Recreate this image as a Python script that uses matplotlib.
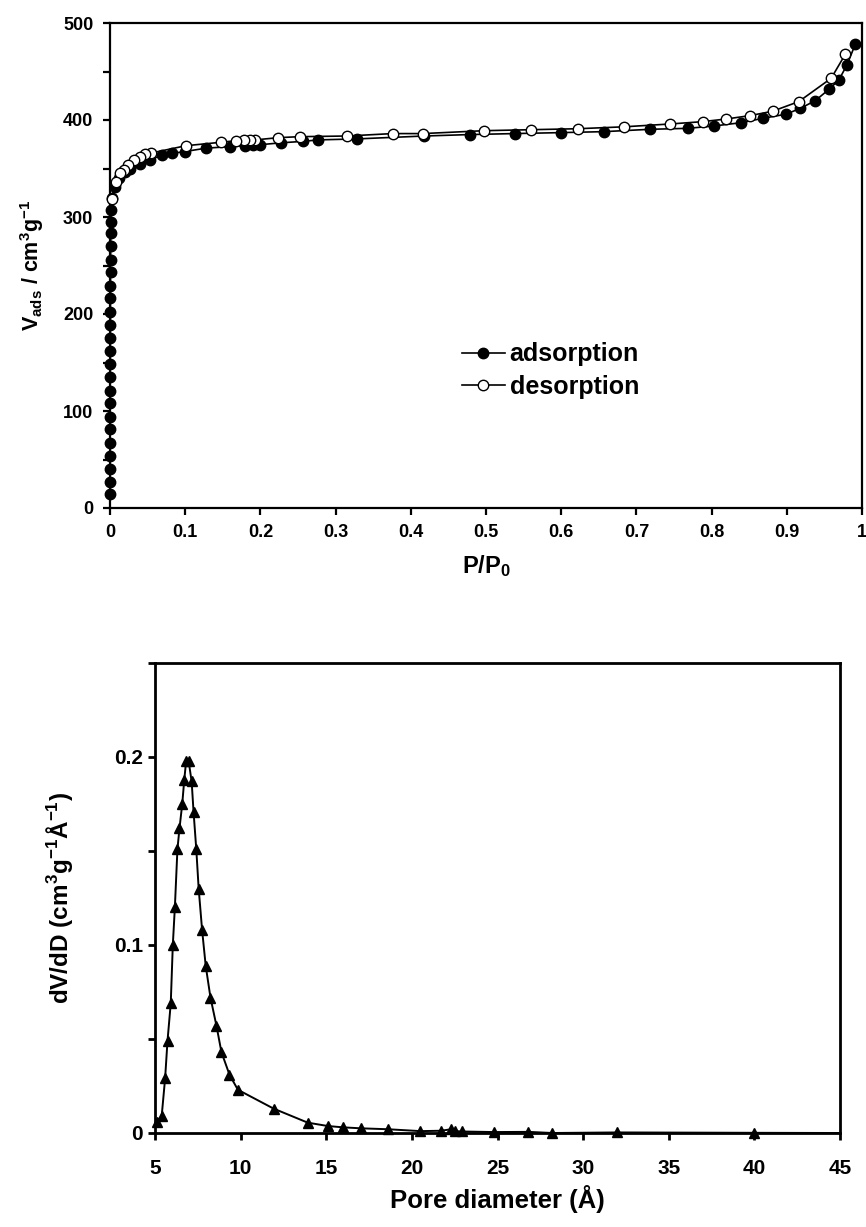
import matplotlib
matplotlib.use("Agg")
import matplotlib.pyplot as plt
from matplotlib.ticker import MultipleLocator, FuncFormatter

plt.rcParams['font.family'] = ['Liberation Sans', 'DejaVu Sans']
plt.rcParams['font.weight'] = 'bold'
plt.rcParams['axes.labelweight'] = 'bold'
plt.rcParams['mathtext.fontset'] = 'custom'
plt.rcParams['mathtext.rm'] = 'Liberation Sans:bold'
plt.rcParams['mathtext.it'] = 'Liberation Sans:bold'
plt.rcParams['mathtext.bf'] = 'Liberation Sans:bold'
plt.rcParams['mathtext.default'] = 'rm'

# N2 isotherm, adsorption branch (P/P0, cm3/g)
ads_p = [0.0000, 0.0000, 0.0001, 0.0001, 0.0001, 0.0002, 0.0002, 0.0002, 0.0003, 0.0003,
         0.0003, 0.0004, 0.0004, 0.0005, 0.0005, 0.0006, 0.0006, 0.0007, 0.0008, 0.0009,
         0.0010, 0.0012, 0.0015, 0.003, 0.006, 0.012, 0.020, 0.027, 0.040, 0.053,
         0.069, 0.082, 0.0996, 0.128, 0.159, 0.179, 0.190, 0.199, 0.228, 0.257,
         0.277, 0.328, 0.418, 0.479, 0.538, 0.600, 0.657, 0.718, 0.768, 0.803,
         0.839, 0.868, 0.899, 0.918, 0.938, 0.956, 0.969, 0.980, 0.991]
ads_v = [14, 27, 40, 54, 67, 81, 94, 108, 121, 135,
         148, 162, 175, 189, 202, 216, 229, 243, 256, 270,
         283, 295, 307, 320, 331, 340, 346, 350, 355, 359,
         363.5, 365.5, 367.5, 371, 372.5, 373.5, 374, 374.5, 376.5, 378,
         379.5, 380.5, 383.5, 385, 386, 387, 388, 390.4, 391.4, 393.8,
         397.2, 401.7, 406, 412, 420, 431.6, 441, 456.7, 478]

# desorption branch
des_p = [0.978, 0.959, 0.916, 0.881, 0.851, 0.819, 0.788, 0.745, 0.684, 0.622,
         0.560, 0.498, 0.416, 0.376, 0.315, 0.252, 0.224, 0.193, 0.186, 0.178,
         0.168, 0.147, 0.101, 0.055, 0.046, 0.040, 0.032, 0.024, 0.018, 0.013,
         0.008, 0.002]
des_v = [468, 443, 419, 409, 404.5, 401, 398.3, 395.9, 393, 391,
         390, 389, 386, 386, 383.5, 382.8, 381.8, 379.5, 379, 379,
         378.7, 377, 373.5, 366, 365, 362, 359, 354, 348, 345,
         336, 319]

# pore size distribution (angstrom, cm3 g-1 A-1)
pore_d = [5.14, 5.39, 5.59, 5.73, 5.92, 6.04, 6.16, 6.31, 6.43, 6.59,
          6.71, 6.82, 6.96, 7.14, 7.25, 7.41, 7.55, 7.75, 7.96, 8.24,
          8.59, 8.88, 9.35, 9.84, 11.92, 13.92, 15.1, 16.0, 17.0, 18.6,
          20.5, 21.7, 22.3, 22.5, 22.9, 24.8, 26.8, 28.2, 32.0, 40.0, 45.0]
pore_dvdd = [0.006, 0.009, 0.029, 0.049, 0.069, 0.100, 0.120, 0.151, 0.162, 0.175,
             0.188, 0.198, 0.198, 0.187, 0.171, 0.151, 0.130, 0.108, 0.089, 0.072,
             0.057, 0.043, 0.031, 0.023, 0.013, 0.0055, 0.0037, 0.003, 0.0025, 0.002,
             0.001, 0.0012, 0.002, 0.001, 0.0008, 0.0005, 0.0006, 0.0, 0.0003, 0.0001, 0.0]


def style_axes(ax, lw):
    for sp in ax.spines.values():
        sp.set_linewidth(lw)
        sp.set_color("black")
    ax.tick_params(which="both", direction="out", length=5, width=lw, colors="black")


def draw_isotherm(ax):
    ax.plot(ads_p, ads_v, color="black", lw=1.2, marker="o", ms=7.5,
            mfc="black", mec="black", label="adsorption", clip_on=False, zorder=3)
    ax.plot(des_p, des_v, color="black", lw=1.2, marker="o", ms=7.5,
            mfc="white", mec="black", mew=1.0, label="desorption", clip_on=False, zorder=4)
    ax.set_xlim(0, 1)
    ax.set_ylim(0, 500)
    ax.xaxis.set_major_locator(MultipleLocator(0.1))
    ax.xaxis.set_major_formatter(FuncFormatter(lambda v, p: f"{v:g}"))
    ax.yaxis.set_major_locator(MultipleLocator(100))
    ax.yaxis.set_minor_locator(MultipleLocator(50))
    style_axes(ax, 1.6)
    ax.tick_params(axis="x", labelsize=13, pad=6.5)
    ax.tick_params(axis="y", labelsize=13, pad=7)
    ax.set_xlabel(r"P/P$_0$", fontsize=17, labelpad=9)
    ax.set_ylabel(r"V$_{ads}$ / cm$^3$g$^{-1}$", fontsize=15.5, labelpad=12)
    ax.legend(loc="center left", bbox_to_anchor=(0.455, 0.283), frameon=False,
              fontsize=18, handlelength=1.7, handletextpad=0.2, labelspacing=0.35,
              borderaxespad=0)


def draw_psd(ax):
    ax.plot(pore_d, pore_dvdd, color="black", lw=1.4, marker="^", ms=6.5,
            mfc="black", mec="black", markevery=slice(0, -1), clip_on=False)
    ax.set_xlim(5, 45)
    ax.set_ylim(0, 0.25)
    ax.xaxis.set_major_locator(MultipleLocator(5))
    ax.yaxis.set_major_locator(MultipleLocator(0.1))
    ax.yaxis.set_minor_locator(MultipleLocator(0.05))
    ax.yaxis.set_major_formatter(FuncFormatter(lambda v, p: f"{v:g}"))
    style_axes(ax, 2.0)
    ax.tick_params(axis="x", labelsize=15, pad=14)
    ax.tick_params(axis="y", labelsize=15)
    ax.set_xlabel("Pore diameter (Å)", fontsize=18.5, labelpad=5)
    ax.set_ylabel(r"dV/dD (cm$^3$g$^{-1}$Å$^{-1}$)", fontsize=17.5, labelpad=28)


fig = plt.figure(figsize=(8.66, 12.27), dpi=100)
ax_top = fig.add_axes([110 / 866, 1 - 508 / 1227, 752 / 866, 485 / 1227])
ax_bot = fig.add_axes([155 / 866, 1 - 1133 / 1227, 685 / 866, 470 / 1227])
draw_isotherm(ax_top)
draw_psd(ax_bot)
fig.savefig("out.png", dpi=100)
